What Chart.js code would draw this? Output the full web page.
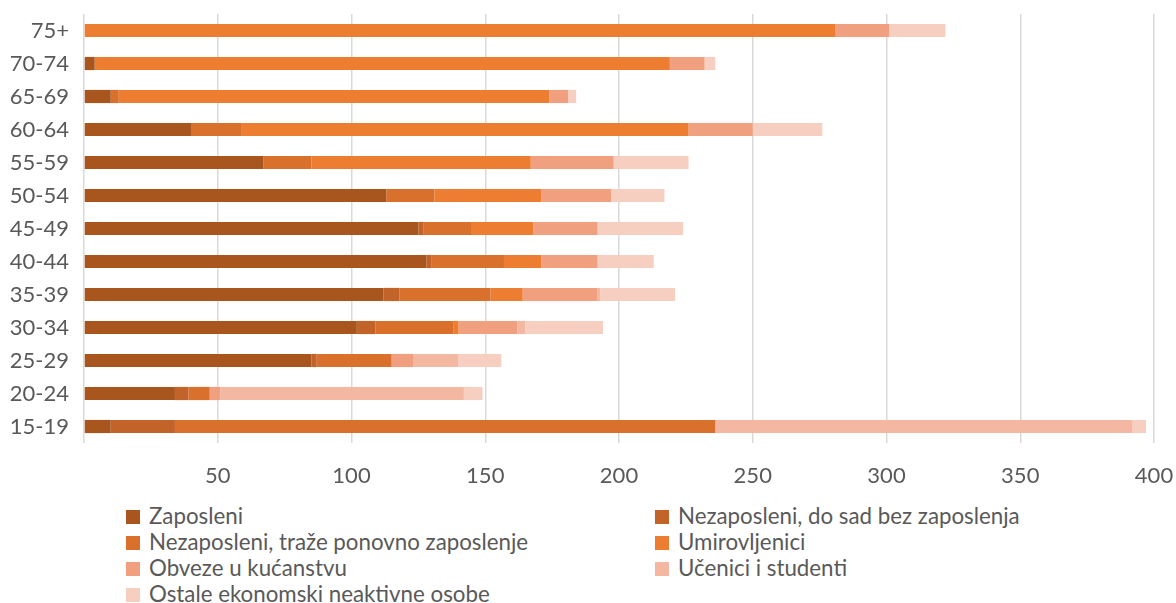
<!DOCTYPE html>
<html>
<head>
<meta charset="utf-8">
<script src="https://cdn.jsdelivr.net/npm/chart.js@4.4.1/dist/chart.umd.min.js"></script>
<style>
  html, body { margin: 0; padding: 0; background: #fff; }
  body { width: 1176px; height: 603px; position: relative; overflow: hidden; font-family: Lato, "Open Sans", sans-serif; }
  #wrap { position: absolute; left: 0; top: 0; width: 1176px; height: 500px; }
  #legend { position: absolute; left: 0; top: 503px; width: 1176px; }
  .item { position: absolute; height: 26px; line-height: 26px; font-size: 22.3px; color: #595959; white-space: nowrap; }
  .box { display: inline-block; width: 14px; height: 14px; vertical-align: 0px; margin-right: 9px; }
</style>
</head>
<body>
<div id="wrap"><canvas id="c"></canvas></div>
<div id="legend"></div>
<script>
const categories = ["75+", "70-74", "65-69", "60-64", "55-59", "50-54", "45-49", "40-44", "35-39", "30-34", "25-29", "20-24", "15-19"];
const seriesNames = ["Zaposleni", "Nezaposleni, do sad bez zaposlenja", "Nezaposleni, traže ponovno zaposlenje", "Umirovljenici", "Obveze u kućanstvu", "Učenici i studenti", "Ostale ekonomski neaktivne osobe"];
const zaposleni      = [0, 4, 10, 40, 67, 113, 125, 128, 112, 102, 85, 34, 10];
const bezZaposlenja  = [0, 0, 0, 0, 0, 0, 2, 2, 6, 7, 2, 5, 24];
const traze          = [0, 0, 3, 19, 18, 18, 18, 27, 34, 29, 28, 8, 202];
const umirovljenici  = [281, 215, 161, 167, 82, 40, 23, 14, 12, 2, 0, 0, 0];
const obveze         = [20, 13, 7, 24, 31, 26, 24, 21, 28, 22, 8, 4, 0];
const ucenici        = [0, 0, 0, 0, 0, 0, 0, 0, 1, 3, 17, 91, 156];
const ostale         = [21, 4, 3, 26, 28, 20, 32, 21, 28, 29, 16, 7, 5];
const xTicks = [0, 50, 100, 150, 200, 250, 300, 350, 400];

const colors = ["#A9561E", "#C2632A", "#D9712D", "#ED7D31", "#F0A07E", "#F4B7A1", "#F7CFC0"];
const values = [zaposleni, bezZaposlenja, traze, umirovljenici, obveze, ucenici, ostale];

const datasets = seriesNames.map((name, i) => ({
  label: name,
  data: values[i],
  backgroundColor: colors[i],
  borderWidth: 0,
  barPercentage: 0.4,
  categoryPercentage: 1.0
}));

new Chart(document.getElementById('c'), {
  type: 'bar',
  data: { labels: categories, datasets },
  options: {
    indexAxis: 'y',
    responsive: true,
    maintainAspectRatio: false,
    animation: false,
    layout: { padding: { left: 0, right: 22, top: 14, bottom: 0 } },
    plugins: { legend: { display: false }, tooltip: { enabled: false } },
    scales: {
      x: {
        stacked: true,
        min: 0, max: 400,
        afterBuildTicks: (s) => { s.ticks = xTicks.map(v => ({ value: v })); },
        afterFit: (s) => { s.height = 57; s.paddingLeft = 0; s.paddingRight = 0; },
        grid: { color: '#D9D9D9', lineWidth: 1.5, drawTicks: false },
        border: { display: false },
        ticks: {
          padding: 20,
          color: '#595959',
          font: { family: 'Lato', size: 22 },
          callback: (v) => v === 0 ? '' : v
        }
      },
      y: {
        stacked: true,
        afterFit: (s) => { s.width = 84; s.paddingTop = 0; s.paddingBottom = 0; },
        grid: { display: false, drawTicks: false },
        border: { display: false },
        ticks: {
          padding: 15,
          color: '#595959',
          font: { family: 'Lato', size: 22 }
        }
      }
    }
  }
});

const leg = document.getElementById('legend');
const positions = [[126, 0], [655, 0], [126, 1], [655, 1], [126, 2], [655, 2], [126, 3]];
seriesNames.forEach((name, i) => {
  const d = document.createElement('div');
  d.className = 'item';
  d.style.left = positions[i][0] + 'px';
  d.style.top = (positions[i][1] * 26) + 'px';
  d.innerHTML = '<span class="box" style="background:' + colors[i] + '"></span>' + name;
  leg.appendChild(d);
});
</script>
</body>
</html>
